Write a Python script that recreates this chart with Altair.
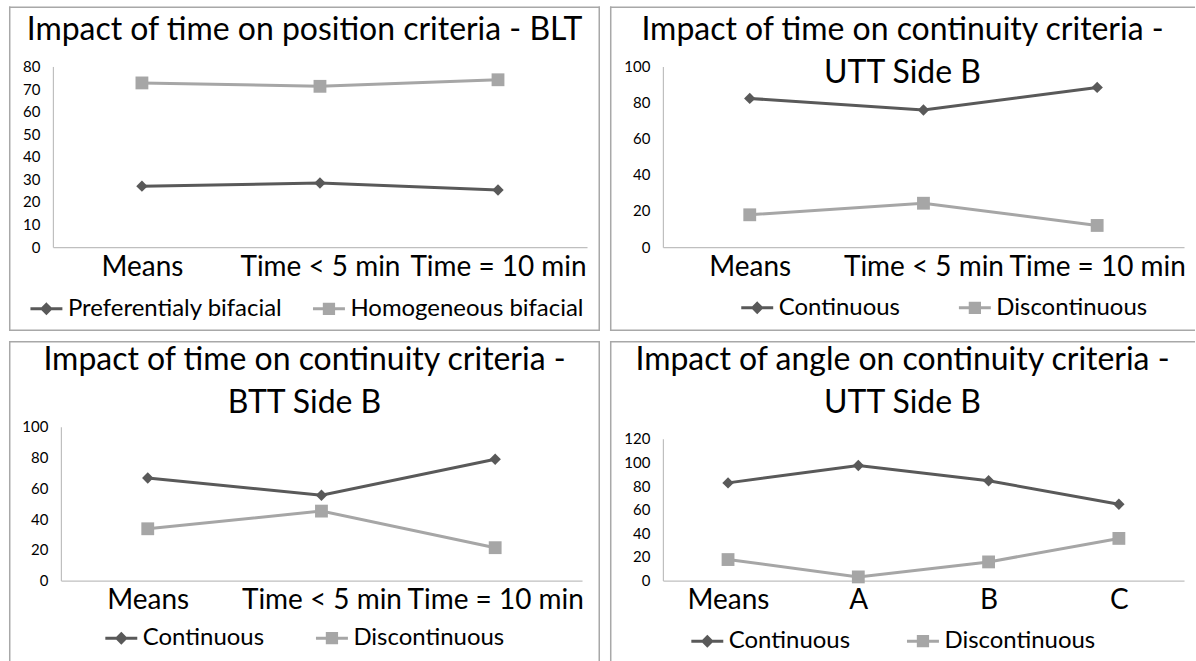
import altair as alt
import pandas as pd

FONT = "Lato"
DARK = "#595959"
LIGHT = "#a6a6a6"
FRAME = "#a8a8a8"

# ---------------- data ----------------
p1_title = ["Impact of time on position criteria - BLT"]
p1_cats = ["Means", "Time < 5 min", "Time = 10 min"]
p1_series = ["Preferentialy bifacial", "Homogeneous bifacial"]
p1_s1 = [27.0, 28.4, 25.3]
p1_s2 = [72.7, 71.2, 74.1]
p1_ticks = [0, 10, 20, 30, 40, 50, 60, 70, 80]

p2_title = ["Impact of time on continuity criteria -", "UTT Side B"]
p2_cats = ["Means", "Time < 5 min", "Time = 10 min"]
p2_series = ["Continuous", "Discontinuous"]
p2_s1 = [82.3, 75.9, 88.4]
p2_s2 = [17.9, 24.3, 12.0]
p2_ticks = [0, 20, 40, 60, 80, 100]

p3_title = ["Impact of time on continuity criteria -", "BTT Side B"]
p3_cats = ["Means", "Time < 5 min", "Time = 10 min"]
p3_series = ["Continuous", "Discontinuous"]
p3_s1 = [66.7, 55.5, 78.9]
p3_s2 = [33.7, 45.2, 21.4]
p3_ticks = [0, 20, 40, 60, 80, 100]

p4_title = ["Impact of angle on continuity criteria -", "UTT Side B"]
p4_cats = ["Means", "A", "B", "C"]
p4_series = ["Continuous", "Discontinuous"]
p4_s1 = [82.7, 97.4, 84.5, 64.6]
p4_s2 = [17.8, 3.1, 15.8, 35.7]
p4_ticks = [0, 20, 40, 60, 80, 100, 120]

# legend symbols: line segment + marker
DIA = "M-1,0H1M0,-0.27L0.27,0L0,0.27L-0.27,0Z"
SQ = "M-1,0H1M-0.29,-0.29H0.29V0.29H-0.29Z"


def frame_layer(FW, FH, sides):
    one = pd.DataFrame({"k": [0]})
    segs = {
        "top": (0, FW, 0.75, 0.75),
        "bottom": (0, FW, FH - 0.75, FH - 0.75),
        "left": (0.75, 0.75, 0, FH),
        "right": (FW - 0.75, FW - 0.75, 0, FH),
    }
    layers = []
    for s, (x1, x2, y1, y2) in segs.items():
        if s in sides:
            layers.append(
                alt.Chart(one).mark_rule(color=FRAME, strokeWidth=1.5).encode(
                    x=alt.value(x1), x2=alt.value(x2), y=alt.value(y1), y2=alt.value(y2)
                )
            )
    return layers


def panel(title, cats, series, s1, s2, ticks, FW, FH, L, T, W, H, sides, toff, lx, ly, gap,
          lsize):
    rows = []
    for name, vals in zip(series, [s1, s2]):
        for c, v in zip(cats, vals):
            rows.append({"cat": c, "series": name, "value": v})
    df = pd.DataFrame(rows)

    x = alt.X(
        "cat:N", sort=cats, scale=alt.Scale(type="point", padding=0.5, range=[L, L + W]),
        axis=alt.Axis(title=None, labelAngle=0, labelFontSize=28, labelPadding=6, ticks=False,
                      grid=False, domainColor="#bfbfbf", domainWidth=1.2, labelColor="#000",
                      labelFont=FONT, offset=-(FH - T - H)),
    )
    y = alt.Y(
        "value:Q", scale=alt.Scale(domain=[ticks[0], ticks[-1]], nice=False, zero=True,
                                   range=[T + H, T]),
        axis=alt.Axis(title=None, values=ticks, ticks=False, grid=False, labelFontSize=15,
                      labelPadding=13, domainColor="#bfbfbf", domainWidth=1.2, labelColor="#000",
                      labelFont=FONT, offset=-L),
    )
    # reversed domain order keeps this (hidden) colour legend from merging with the real one
    color = alt.Color("series:N", scale=alt.Scale(domain=series[::-1], range=[LIGHT, DARK]),
                      legend=None)

    base = alt.Chart(df)
    lines = base.mark_line(strokeWidth=3).encode(x=x, y=y, color=color)
    dia = base.transform_filter(alt.datum.series == series[0]).mark_point(
        shape="diamond", filled=True, size=130, opacity=1).encode(x=x, y=y, color=color)
    sq = base.transform_filter(alt.datum.series == series[1]).mark_point(
        shape="square", filled=True, size=165, opacity=1).encode(x=x, y=y, color=color)

    leg = alt.Legend(orient="none", legendX=lx, legendY=ly, direction="horizontal", title=None,
                     labelFontSize=24, labelFont=FONT, labelColor="#000", labelLimit=500,
                     symbolSize=lsize, symbolStrokeWidth=3, symbolOpacity=1, columnPadding=gap,
                     labelOffset=4)
    legend_layer = base.mark_point(filled=True, opacity=0).encode(
        fill=alt.Fill("series:N", scale=alt.Scale(domain=series, range=[DARK, LIGHT]), legend=leg),
        stroke=alt.Stroke("series:N", scale=alt.Scale(domain=series, range=[DARK, LIGHT]), legend=leg),
        shape=alt.Shape("series:N", scale=alt.Scale(domain=series, range=[DIA, SQ]), legend=leg),
    )

    layers = frame_layer(FW, FH, sides) + [lines, dia, sq, legend_layer]
    return alt.layer(*layers).properties(
        width=FW, height=FH, view=alt.ViewBackground(stroke="transparent", strokeWidth=0),
        title=alt.TitleParams(text=title, fontSize=32, font=FONT, fontWeight="normal", color="#000",
                              anchor="middle", frame="group", offset=toff, lineHeight=43),
    )


p1 = panel(p1_title, p1_cats, p1_series, p1_s1, p1_s2, p1_ticks, 592, 325, 44, 60, 535, 181,
           ["top", "bottom", "left", "right"], -41, 20, 285, 24, 1024)
p2 = panel(p2_title, p2_cats, p2_series, p2_s1, p2_s2, p2_ticks, 586, 325, 53, 60, 522, 181,
           ["top", "bottom", "left"], -84, 130, 284, 52, 1024)
p3 = panel(p3_title, p3_cats, p3_series, p3_s1, p3_s2, p3_ticks, 592, 321, 52, 86, 522, 154,
           ["top", "left", "right"], -80, 95, 280, 45, 1024)
p4 = panel(p4_title, p4_cats, p4_series, p4_s1, p4_s2, p4_ticks, 586, 321, 53, 98, 522, 142,
           ["top", "left"], -80, 80, 283, 50, 1024)

res = dict(color="independent", fill="independent", stroke="independent", shape="independent")
chart = alt.concat(p1, p2, p3, p4, columns=2, spacing=10).resolve_scale(**res).properties(
    align="each", bounds="flush",
    padding={"left": 8, "top": 5, "right": 0, "bottom": 0}, background="white"
).configure_view(stroke="transparent", strokeWidth=0).configure(font=FONT)

chart.save("out.html", embed_options={"renderer": "svg", "actions": False})
